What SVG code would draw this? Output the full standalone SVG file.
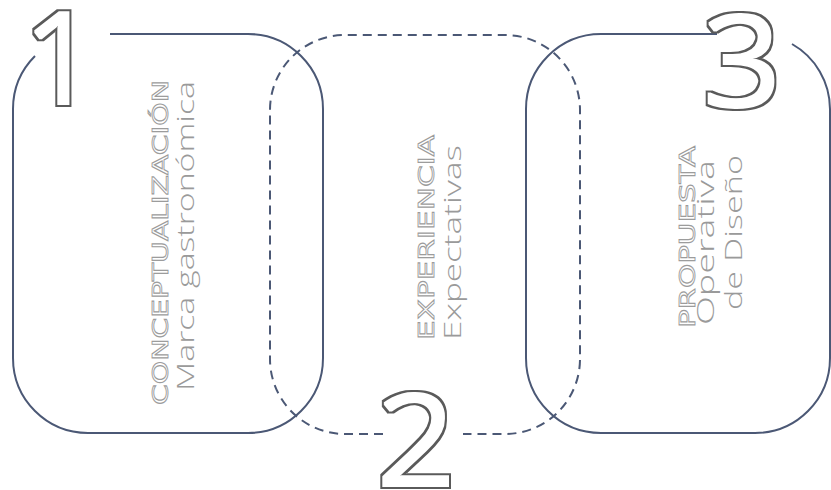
<svg xmlns="http://www.w3.org/2000/svg" width="831" height="490" viewBox="0 0 831 490">
<defs>
<filter id="outline" x="-20%" y="-20%" width="140%" height="140%">
<feMorphology in="SourceAlpha" operator="dilate" radius="2.6" result="outer"/>
<feMorphology in="SourceAlpha" operator="dilate" radius="1.3" result="inner"/>
<feComposite in="outer" in2="inner" operator="out" result="ring"/>
<feFlood flood-color="#5a5a5a"/>
<feComposite in2="ring" operator="in"/>
</filter>
</defs>
<style>
.box{fill:none;stroke:#4b5875;stroke-width:2}
.dash{stroke-dasharray:9 6}
.num{font-family:"Open Sans","Liberation Sans",sans-serif;font-size:128px;fill:#555;text-anchor:middle;filter:url(#outline)}
.ttl{font-family:"DejaVu Sans","Liberation Sans",sans-serif;font-size:22px;fill:#fff;stroke:#9c9c9c;stroke-width:0.9}
.sub{font-family:"Open Sans","Liberation Sans",sans-serif;font-weight:300;font-size:23px;fill:#9a9a9a}
</style>
<rect width="831" height="490" fill="#fff"/>
<g id="connectors">
<path class="box dash" d="M383 434 H345 A75 75 0 0 1 270 359 V110 A75 75 0 0 1 345 35 H505 A75 75 0 0 1 580 110 V359 A75 75 0 0 1 505 434 H463"/>
</g>
<g id="node1">
<path class="box" d="M110 34 H248 A75 75 0 0 1 323 109 V358 A75 75 0 0 1 248 433 H88 A75 75 0 0 1 13 358 V109 A75 75 0 0 1 35 56"/>
<text class="num" transform="translate(60,104)">1</text>
<text class="ttl" transform="translate(168,405) rotate(-90)" textLength="325" lengthAdjust="spacingAndGlyphs">CONCEPTUALIZACIÓN</text>
<text class="sub" transform="translate(194,391) rotate(-90)" textLength="310" lengthAdjust="spacingAndGlyphs">Marca gastronómica</text>
</g>
<g id="node2">
<text class="num" transform="translate(416,486) scale(1.08,1)">2</text>
<text class="ttl" transform="translate(434,340) rotate(-90)" textLength="205" lengthAdjust="spacingAndGlyphs">EXPERIENCIA</text>
<text class="sub" transform="translate(461,340) rotate(-90)" textLength="195" lengthAdjust="spacingAndGlyphs">Expectativas</text>
</g>
<g id="node3">
<path class="box" d="M717 34 H601 A75 75 0 0 0 526 109 V358 A75 75 0 0 0 601 433 H755 A75 75 0 0 0 830 358 V109 A75 75 0 0 0 792 44"/>
<text class="num" transform="translate(742,107) scale(1.08,1)">3</text>
<text class="ttl" transform="translate(695,328) rotate(-90)" textLength="182" lengthAdjust="spacingAndGlyphs">PROPUESTA</text>
<text class="sub" transform="translate(714,325) rotate(-90)" textLength="165" lengthAdjust="spacingAndGlyphs">Operativa</text>
<text class="sub" transform="translate(742,310) rotate(-90)" textLength="155" lengthAdjust="spacingAndGlyphs">de Diseño</text>
</g>
</svg>
